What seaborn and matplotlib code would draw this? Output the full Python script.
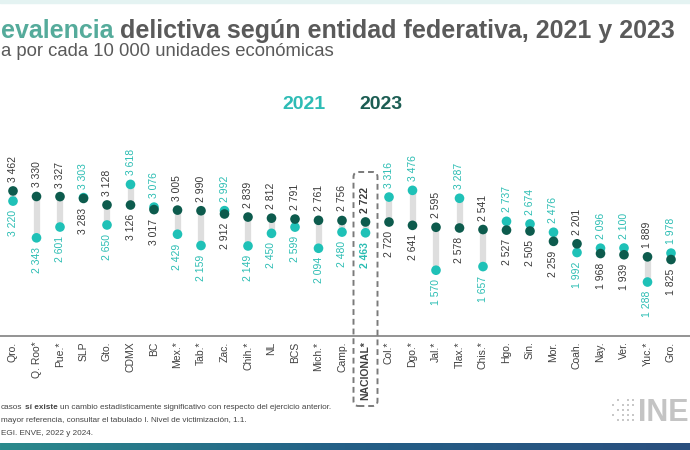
import numpy as np
import pandas as pd
import seaborn as sns
import matplotlib.pyplot as plt
from matplotlib.patches import FancyBboxPatch, Rectangle
from matplotlib.colors import LinearSegmentedColormap

# datos (tasa por cada 10 000 unidades economicas)
estados = ["Qro.", "Q. Roo*", "Pue.*", "SLP", "Gto.", "CDMX", "BC", "Mex.*", "Tab.*", "Zac.",
           "Chih.*", "NL", "BCS", "Mich.*", "Camp.", "NACIONAL*", "Col.*", "Dgo.*", "Jal.*", "Tlax.*",
           "Chis.*", "Hgo.", "Sin.", "Mor.", "Coah.", "Nay.", "Ver.", "Yuc.*", "Gro."]
v2021 = [3220, 2343, 2601, 3303, 2650, 3618, 3076, 2429, 2159, 2992,
         2149, 2450, 2599, 2094, 2480, 2463, 3316, 3476, 1570, 3287,
         1657, 2737, 2674, 2476, 1992, 2096, 2100, 1288, 1978]
v2023 = [3462, 3330, 3327, 3283, 3128, 3126, 3017, 3005, 2990, 2912,
         2839, 2812, 2791, 2761, 2756, 2722, 2720, 2641, 2595, 2578,
         2541, 2527, 2505, 2259, 2201, 1968, 1939, 1889, 1825]

C21 = "#1fc1b7"
C23 = "#0d5b4d"
GRIS = "#5a5a5a"

sns.set_style("white")
plt.rcParams['font.family'] = ['Liberation Sans', 'DejaVu Sans']

df = pd.DataFrame({"estado": estados, "2021": v2021, "2023": v2023})
df["pos"] = np.arange(len(df))
largo = df.melt(id_vars=["estado", "pos"], value_vars=["2021", "2023"],
                var_name="anio", value_name="valor")

W, H = 690, 450
fig = plt.figure(figsize=(W / 100, H / 100), dpi=100)
ax = fig.add_axes([0, (H - 336) / H, 1, 209.5 / H])

ax.vlines(df["pos"], df["2021"], df["2023"], color="#dedede", lw=4.5, zorder=1)
sns.scatterplot(data=largo, x="pos", y="valor", hue="anio",
                palette={"2021": C21, "2023": C23}, s=48, edgecolor="none",
                legend=False, ax=ax, zorder=3)

def fmt(v):
    return f"{v:,}".replace(",", " ")

for i, row in df.iterrows():
    nac = row["estado"].startswith("NACIONAL")
    for anio, col in (("2021", "#2bbdb3"), ("2023", "#3a3a3a")):
        v = row[anio]
        otro = row["2023" if anio == "2021" else "2021"]
        arriba = v >= otro
        ax.annotate(fmt(v), (row["pos"], v), xytext=(0, 6.5 if arriba else -6.5),
                    textcoords="offset points", rotation=90, ha="center",
                    va="bottom" if arriba else "top", fontsize=7.5, color=col,
                    fontweight="bold" if nac else "normal", annotation_clip=False)

paso = 23.5
ax.set_xlim(-13 / paso, (W - 13) / paso)
ax.set_ylim(0, 5000)
sns.despine(ax=ax, left=True)
ax.spines["bottom"].set_color("#8a8a8a")
ax.spines["bottom"].set_linewidth(1.3)
ax.set_yticks([])
ax.set_xticks(df["pos"])
ax.set_xticklabels(estados, rotation=90, fontsize=7.5, color="#404040")
ax.tick_params(axis="x", length=0, pad=4)
ax.set_xlabel("")
ax.set_ylabel("")
inac = estados.index("NACIONAL*")
ax.get_xticklabels()[inac].set_fontweight("bold")

# recuadro punteado del nacional
xc = ax.transData.transform((inac, 0))[0]
caja = FancyBboxPatch((xc - 12, H - 406), 24, 406 - 172,
                      boxstyle="round,pad=0,rounding_size=5", transform=None,
                      fill=False, ec="#7a7a7a", lw=1.4, ls=(0, (3, 2)))
fig.patches.append(caja)

# titulo (tal como se ve en la captura recortada)
t1 = fig.text(1 / W, 1 - 38 / H, "evalencia", ha="left", va="baseline", fontsize=18,
              fontweight="bold", color="#55ab9b")
ax.annotate("delictiva según entidad federativa, 2021 y 2023", xy=(1, 0), xycoords=t1,
            xytext=(5, 0), textcoords="offset points", ha="left", va="bottom", fontsize=18,
            fontweight="bold", color=GRIS, annotation_clip=False)
fig.text(1 / W, 1 - 56 / H, "a por cada 10 000 unidades económicas",
         ha="left", va="baseline", fontsize=13.3, color=GRIS)

# leyenda
fig.text(304 / W, 1 - 109 / H, "2021", ha="center", va="baseline", fontsize=14,
         fontweight="bold", color="#2ebcb5")
fig.text(381 / W, 1 - 109 / H, "2023", ha="center", va="baseline", fontsize=14,
         fontweight="bold", color="#1c5d53")

# notas
fs = 5.9
n1 = fig.text(1 / W, 1 - 409 / H, "casos", ha="left", va="baseline", fontsize=fs, color="#444444")
n2 = ax.annotate("sí existe", xy=(1, 0), xycoords=n1, xytext=(1.6, 0), textcoords="offset points",
                 ha="left", va="bottom", fontsize=fs, fontweight="bold", color="#444444",
                 annotation_clip=False)
ax.annotate("un cambio estadísticamente significativo con respecto del ejercicio anterior.",
            xy=(1, 0), xycoords=n2, xytext=(1.6, 0), textcoords="offset points",
            ha="left", va="bottom", fontsize=fs, color="#444444", annotation_clip=False)
fig.text(1 / W, 1 - 422 / H, "mayor referencia, consultar el tabulado I. Nivel de victimización, 1.1.",
         ha="left", va="baseline", fontsize=fs, color="#444444")
fig.text(1 / W, 1 - 435 / H, "EGI. ENVE, 2022 y 2024.", ha="left", va="baseline",
         fontsize=fs, color="#444444")

# logo
fig.text(689 / W, 1 - 421 / H, "INE", ha="right", va="baseline", fontsize=22,
         fontweight="bold", color="#c4c4c4")
logo = fig.add_axes([610 / W, 1 - 422 / H, 26 / W, 24 / H])
lx = [0, 0, 1, 1, 1, 2, 2, 2, 2, 3, 3, 3, 3, 3, 4, 4, 4, 4]
ly = [3, 1, 4, 2, 0, 3, 2, 1, 0, 4, 3, 2, 1, 0, 4, 3, 1, 0]
logo.scatter(lx, ly, s=3, marker="s", color="#c8c8c8", lw=0)
logo.set_xlim(-0.5, 4.5)
logo.set_ylim(-0.5, 4.5)
logo.axis("off")

# bandas superior e inferior
fig.patches.append(Rectangle((0, 1 - 3 / H), 1, 3 / H, transform=fig.transFigure,
                             color="#e4f3f2", zorder=0))
banda = fig.add_axes([0, 0, 1, 7 / H])
cmap = LinearSegmentedColormap.from_list("b", ["#2b8a8c", "#235f86", "#2a4f7e"])
banda.imshow(np.linspace(0, 1, 256)[None, :], aspect="auto", cmap=cmap)
banda.axis("off")

fig.savefig("out.png", dpi=100)
